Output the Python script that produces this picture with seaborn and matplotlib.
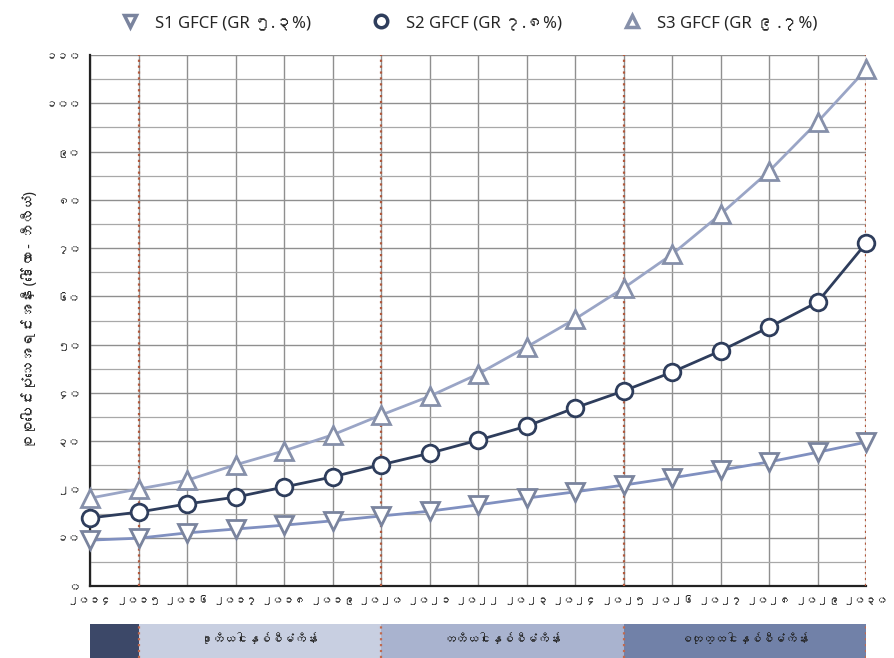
import numpy as np
import pandas as pd
import seaborn as sns
import matplotlib
matplotlib.use("Agg")
import matplotlib.pyplot as plt
from matplotlib import font_manager
from matplotlib.lines import Line2D

# Data (billion dollars)
years = list(range(2014, 2031))
s1_gfcf = [9.5, 9.9, 11.0, 11.8, 12.6, 13.5, 14.5, 15.5, 16.8, 18.2, 19.5, 20.9, 22.4, 24.0, 25.7, 27.7, 29.8]
s2_gfcf = [14.1, 15.3, 17.0, 18.4, 20.5, 22.6, 25.1, 27.5, 30.2, 33.1, 36.9, 40.4, 44.3, 48.7, 53.6, 58.8, 71.0]
s3_gfcf = [18.2, 20.1, 21.9, 25.1, 28.0, 31.3, 35.4, 39.3, 43.9, 49.5, 55.3, 61.7, 68.7, 77.0, 85.9, 96.1, 107.0]

series_names = ["S1 GFCF (GR ၅.၃%)", "S2 GFCF (GR ၇.၈%)", "S3 GFCF (GR ၉ .၇%)"]

x_labels = ["၂၀၁၄", "၂၀၁၅", "၂၀၁၆", "၂၀၁၇", "၂၀၁၈", "၂၀၁၉", "၂၀၂၀", "၂၀၂၁", "၂၀၂၂",
            "၂၀၂၃", "၂၀၂၄", "၂၀၂၅", "၂၀၂၆", "၂၀၂၇", "၂၀၂၈", "၂၀၂၉", "၂၀၃၀"]
y_ticks = [0, 10, 20, 30, 40, 50, 60, 70, 80, 90, 100, 110]
y_labels = ["၀", "၁၀", "၂၀", "၃၀", "၄၀", "၅၀", "၆၀", "၇၀", "၈၀", "၉၀", "၁၀၀", "၁၁၀"]
y_title = "စုစုပေါင်းပုံသေအရင်းအနှီး (ဒေါ်လာ - ဘီလီယံ)"

plan_edges = [2014, 2015, 2020, 2025, 2030]
plan_names = ["", "ဒုတိယငါးနှစ်စီမံကိန်း", "တတိယငါးနှစ်စီမံကိန်း", "စတုတ္ထငါးနှစ်စီမံကိန်း"]
plan_colors = ["#3c4868", "#c8cfe1", "#a9b3cf", "#7181a8"]


def find_myanmar_font():
    # look for any installed font that covers the Myanmar block
    try:
        from fontTools.ttLib import TTFont
    except ImportError:
        return None
    for fe in font_manager.fontManager.ttflist:
        try:
            tt = TTFont(fe.fname, fontNumber=0, lazy=True)
            cmap = tt.getBestCmap() or {}
            if 0x1000 in cmap and 0x1040 in cmap and 0x1014 in cmap:
                return fe.name
        except Exception:
            continue
    return None


sns.set_style("white")
mm_font = find_myanmar_font()
families = ["Noto Sans"]
if mm_font:
    families.append(mm_font)
families.append("DejaVu Sans")
plt.rcParams["font.family"] = families

df = pd.DataFrame({"year": years * 3,
                   "value": s1_gfcf + s2_gfcf + s3_gfcf,
                   "series": [series_names[0]] * 17 + [series_names[1]] * 17 + [series_names[2]] * 17})

fig = plt.figure(figsize=(8.94, 6.58), dpi=100)
ax = fig.add_axes([90 / 894, 1 - 586 / 658, 776 / 894, 531 / 658])

styles = {
    series_names[0]: dict(marker="v", color="#8090c0", mec="#7a849e", ms=13),
    series_names[1]: dict(marker="o", color="#2e3d5c", mec="#2e3d5c", ms=12),
    series_names[2]: dict(marker="^", color="#9aa5c6", mec="#8690aa", ms=13),
}

for name in series_names:
    st = styles[name]
    sns.lineplot(data=df[df["series"] == name], x="year", y="value", ax=ax,
                 color=st["color"], marker=st["marker"], markersize=st["ms"],
                 markerfacecolor="white", markeredgecolor=st["mec"], markeredgewidth=2,
                 linewidth=2, zorder=5, legend=False, clip_on=False)

ax.set_xlim(2014, 2030)
ax.set_ylim(0, 110)
ax.set_xticks(years)
ax.set_xticklabels(x_labels, fontsize=8)
ax.set_yticks(y_ticks)
ax.set_yticklabels(y_labels, fontsize=8.5)
ax.set_yticks(np.arange(0, 111, 5), minor=True)
ax.grid(True, which="major", color="#8f8f8f", linewidth=1.0)
ax.grid(True, which="minor", axis="y", color="#a8a8a8", linewidth=0.9)
ax.tick_params(axis="both", length=0, pad=7)
ax.set_xlabel("")
ax.set_ylabel(y_title, fontsize=10.5, labelpad=5)

for side in ["top", "right"]:
    ax.spines[side].set_visible(False)
for side in ["left", "bottom"]:
    ax.spines[side].set_color("#222222")
    ax.spines[side].set_linewidth(1.6)

# plan boundaries
for xb in plan_edges[1:]:
    ax.axvline(xb, color="#b0583c", linestyle=":", linewidth=1.6, zorder=3)

# legend above the plot
handles = [Line2D([], [], linestyle="none", marker=styles[n]["marker"], markersize=9,
                  markerfacecolor="white", markeredgecolor=styles[n]["mec"],
                  markeredgewidth=2.5) for n in series_names]
fig.legend(handles, series_names, loc="upper center", bbox_to_anchor=(0.52, 1.0),
           ncol=3, frameon=False, fontsize=12, handletextpad=0.5, columnspacing=3.2)

# five-year plan band under the axis
band = fig.add_axes([90 / 894, 0, 776 / 894, 34 / 658])
band.set_xlim(2014, 2030)
band.set_ylim(0, 1)
for i, name in enumerate(plan_names):
    band.axvspan(plan_edges[i], plan_edges[i + 1], color=plan_colors[i], lw=0)
    if name:
        band.text((plan_edges[i] + plan_edges[i + 1]) / 2, 0.55, name,
                  ha="center", va="center", fontsize=8.5, color="#222222")
for xb in plan_edges[1:]:
    band.axvline(xb, color="#c06a50", linestyle=":", linewidth=1.6)
band.axis("off")

fig.savefig("out.png", dpi=100)
